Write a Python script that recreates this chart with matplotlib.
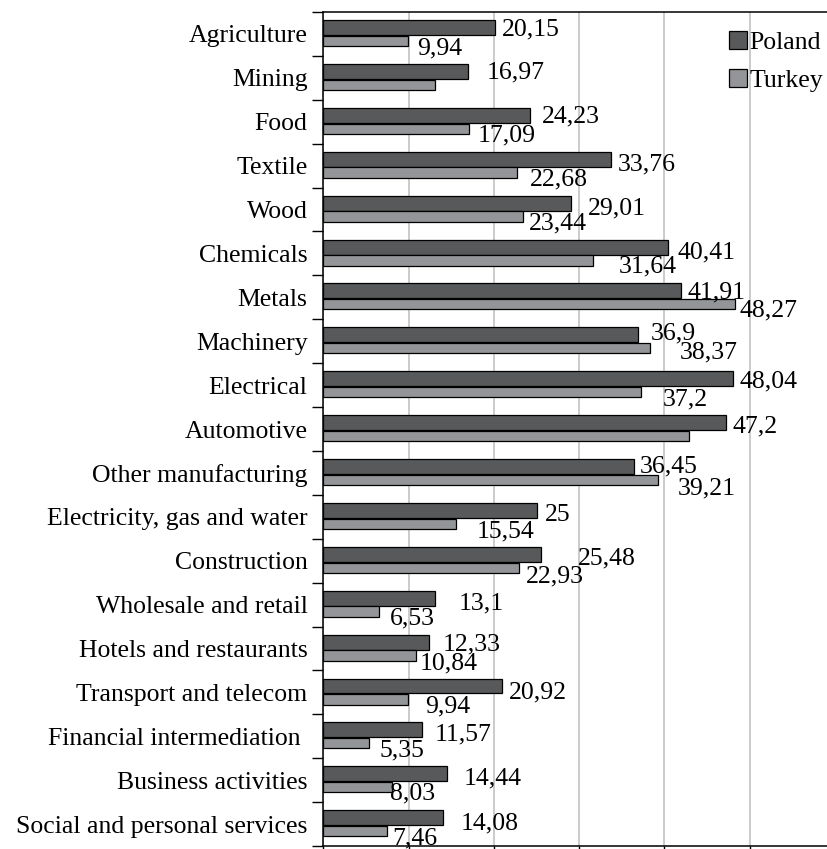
import matplotlib
matplotlib.use("Agg")
import matplotlib.pyplot as plt
from matplotlib.patches import Patch

plt.rcParams['font.family'] = ['Liberation Serif', 'DejaVu Serif']

categories = [
    "Agriculture", "Mining", "Food", "Textile", "Wood", "Chemicals", "Metals",
    "Machinery", "Electrical", "Automotive", "Other manufacturing",
    "Electricity, gas and water", "Construction", "Wholesale and retail",
    "Hotels and restaurants", "Transport and telecom",
    "Financial intermediation ", "Business activities",
    "Social and personal services",
]
poland = [20.15, 16.97, 24.23, 33.76, 29.01, 40.41, 41.91, 36.9, 48.04, 47.2,
          36.45, 25, 25.48, 13.1, 12.33, 20.92, 11.57, 14.44, 14.08]
turkey = [9.94, 13.1, 17.09, 22.68, 23.44, 31.64, 48.27, 38.37, 37.2, 42.9,
          39.21, 15.54, 22.93, 6.53, 10.84, 9.94, 5.35, 8.03, 7.46]
# Turkey bars that carry no value label (Mining, Automotive)
turkey_unlabelled = {1, 9}

# label placement relative to the bar end / bar centre, in pixels (dx right, dy down)
poland_offsets = [(7, 0), (19, -1.5), (12, -1), (7, 3.5), (17, 3), (10, 3), (7, 0),
                  (13, -3), (7, 1), (7, 2), (6, -2), (8, 2.5), (37, 2), (24, 3.5),
                  (14, 0), (7, 4), (13, 3), (17, 3), (17, 3.5)]
turkey_offsets = [(8.5, 5), (0, 0), (9, 4.5), (13, 5), (6, 5), (26, 4.5), (5, 4),
                  (29, 2), (22, 5), (0, 0), (20, 6.5), (21, 6), (7, 7), (11, 4.5),
                  (4, 6), (17, 5), (10, 5.5), (-2, 4.5), (5, 5.5)]

W, H = 828, 849
fig = plt.figure(figsize=(W / 100, H / 100), dpi=100)
ax = fig.add_axes([323.5 / W, 3 / H, 1 - 323.5 / W, (846 - 12) / H])

c_pl = "#58595b"
c_tr = "#939598"
n = len(categories)
ypos = list(range(n))
h_pl, h_tr = 0.34, 0.235
off_pl, off_tr = -0.145, 0.16

ax.barh([y + off_pl for y in ypos], poland, height=h_pl, color=c_pl,
        edgecolor="black", linewidth=0.9, zorder=3, label="Poland")
ax.barh([y + off_tr for y in ypos], turkey, height=h_tr, color=c_tr,
        edgecolor="black", linewidth=0.9, zorder=3, label="Turkey")

fs = 18.5
px = 0.72  # points per pixel at 100 dpi
half_digit = 8.0


def fmt(v):
    return f"{v:g}".replace(".", ",")


for i, v in enumerate(poland):
    dx, dy = poland_offsets[i]
    ax.annotate(fmt(v), xy=(v, i + off_pl), xytext=(dx * px, -(dy + half_digit) * px),
                textcoords="offset points", ha="left", va="baseline",
                fontsize=fs, zorder=5, annotation_clip=False)
for i, v in enumerate(turkey):
    if i in turkey_unlabelled:
        continue
    dx, dy = turkey_offsets[i]
    ax.annotate(fmt(v), xy=(v, i + off_tr), xytext=(dx * px, -(dy + half_digit) * px),
                textcoords="offset points", ha="left", va="baseline",
                fontsize=fs, zorder=5, annotation_clip=False)

ax.set_xlim(0, 59.2)
ax.set_ylim(n - 0.5, -0.5)

# x axis: gridlines and outward ticks, no labels
ax.set_xticks([0, 10, 20, 30, 40, 50])
ax.tick_params(axis="x", direction="out", length=8, width=1.0, labelbottom=False,
               color="black")
ax.grid(axis="x", color="#bdbdbd", linewidth=1.1)
ax.set_axisbelow(True)

# y axis: tick marks on category boundaries, labels at category centres
ax.set_yticks([i - 0.5 for i in range(n + 1)])
ax.set_yticklabels([])
ax.tick_params(axis="y", which="major", direction="out", length=8, width=1.0)
ax.set_yticks(ypos, minor=True)
ax.set_yticklabels(categories, minor=True, fontsize=fs)
ax.tick_params(axis="y", which="minor", length=0, pad=11.5)

for s in ["left", "top", "bottom"]:
    ax.spines[s].set_color("black")
    ax.spines[s].set_linewidth(1.1)
ax.spines["right"].set_visible(False)

handles = [Patch(facecolor=c_pl, edgecolor="black", linewidth=0.9, label="Poland"),
           Patch(facecolor=c_tr, edgecolor="black", linewidth=0.9, label="Turkey")]
ax.legend(handles=handles, loc="upper left", bbox_to_anchor=(729 / W, 1 - 31 / H),
          bbox_transform=fig.transFigure, frameon=False, fontsize=fs,
          borderpad=0, borderaxespad=0, handlelength=0.7, handleheight=0.7,
          handletextpad=0.1, labelspacing=0.6)

fig.savefig("out.png", dpi=100)
